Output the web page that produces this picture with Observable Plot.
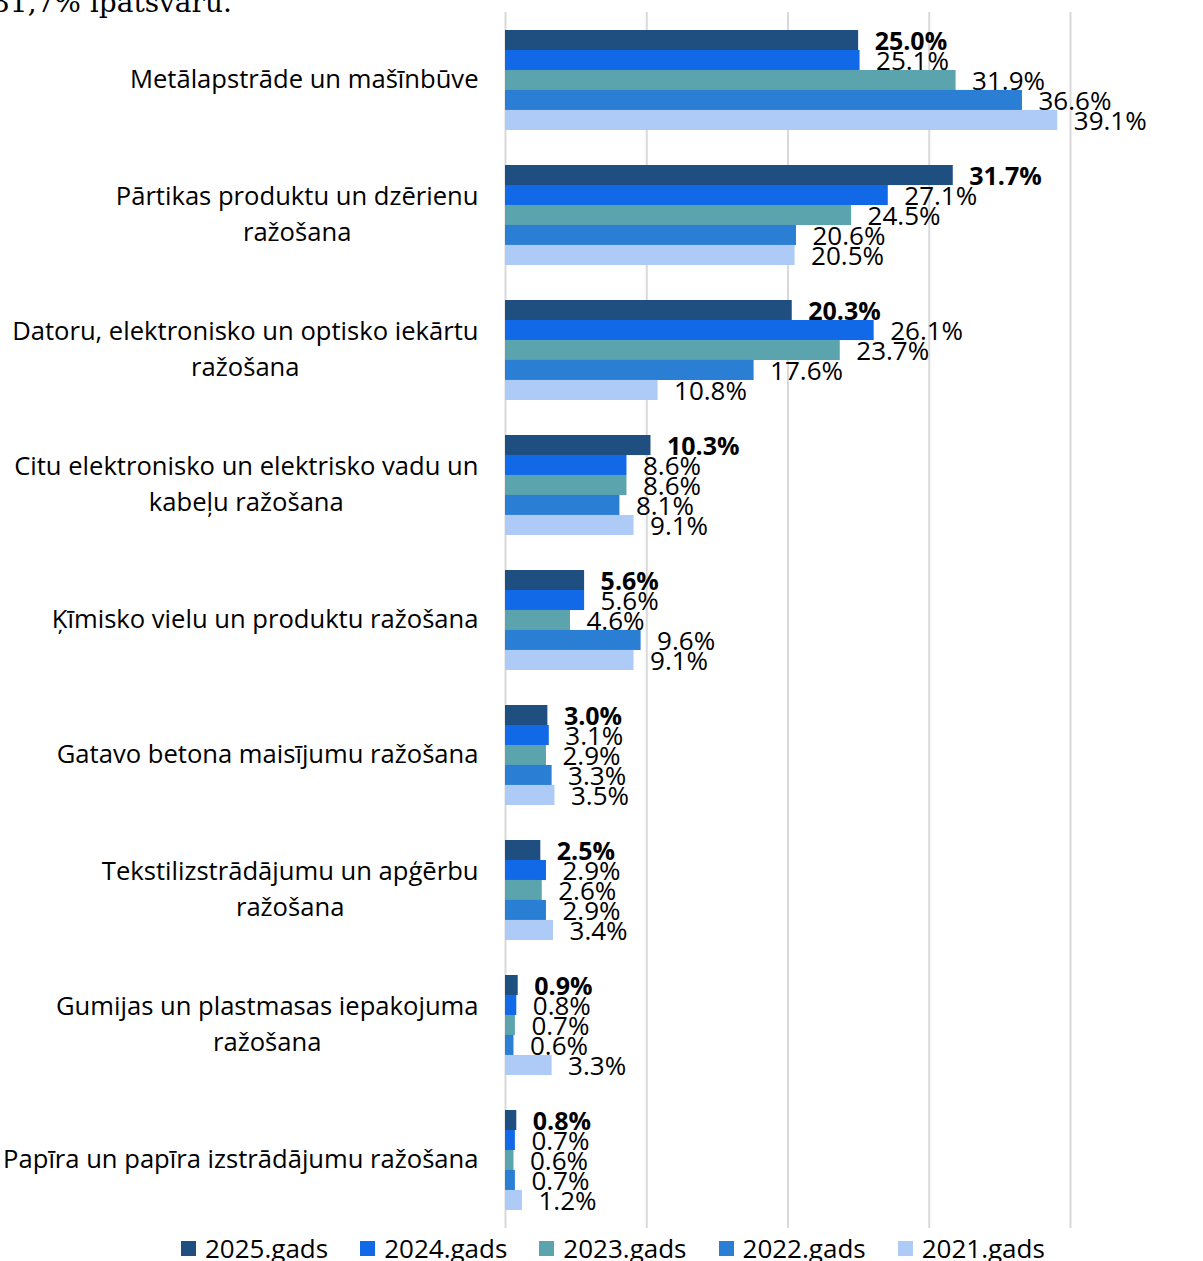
<!DOCTYPE html>
<html>
<head>
<meta charset="utf-8">
<script src="https://cdn.jsdelivr.net/npm/d3@7"></script>
<script src="https://cdn.jsdelivr.net/npm/@observablehq/plot@0.6"></script>
<style>
  html, body { margin: 0; padding: 0; background: #fff; }
  body { width: 1203px; height: 1261px; position: relative; overflow: hidden; font-family: "Open Sans", sans-serif; }
  #intro { position: absolute; left: -8px; top: -11px; font-family: "DejaVu Serif", "Liberation Serif", serif; font-size: 28px; line-height: 28px; color: #000; white-space: nowrap; z-index: 2; }
  #chart { position: absolute; left: 0; top: 0; }
  #legend { position: absolute; left: 181px; top: 1231px; display: flex; gap: 32px; font-size: 26px; line-height: 34px; color: #000; white-space: nowrap; }
  #legend .item { display: flex; align-items: center; gap: 9px; }
  #legend .sw { width: 15px; height: 15px; display: inline-block; }
</style>
</head>
<body>
<div id="chart"></div>
<div id="intro">31,7% īpatsvaru.</div>
<div id="legend"></div>
<script>
// ---- data ----
const categories = [
  "Metālapstrāde un mašīnbūve",
  "Pārtikas produktu un dzērienu ražošana",
  "Datoru, elektronisko un optisko iekārtu ražošana",
  "Citu elektronisko un elektrisko vadu un kabeļu ražošana",
  "Ķīmisko vielu un produktu ražošana",
  "Gatavo betona maisījumu ražošana",
  "Tekstilizstrādājumu un apģērbu ražošana",
  "Gumijas un plastmasas iepakojuma ražošana",
  "Papīra un papīra izstrādājumu ražošana"
];
const categoryLabels = [
  "Metālapstrāde un mašīnbūve",
  "Pārtikas produktu un dzērienu\nražošana",
  "Datoru, elektronisko un optisko iekārtu\nražošana",
  "Citu elektronisko un elektrisko vadu un\nkabeļu ražošana",
  "Ķīmisko vielu un produktu ražošana",
  "Gatavo betona maisījumu ražošana",
  "Tekstilizstrādājumu un apģērbu\nražošana",
  "Gumijas un plastmasas iepakojuma\nražošana",
  "Papīra un papīra izstrādājumu ražošana"
];
const series = ["2025.gads", "2024.gads", "2023.gads", "2022.gads", "2021.gads"];
const values2025 = [25.0, 31.7, 20.3, 10.3, 5.6, 3.0, 2.5, 0.9, 0.8];
const values2024 = [25.1, 27.1, 26.1, 8.6, 5.6, 3.1, 2.9, 0.8, 0.7];
const values2023 = [31.9, 24.5, 23.7, 8.6, 4.6, 2.9, 2.6, 0.7, 0.6];
const values2022 = [36.6, 20.6, 17.6, 8.1, 9.6, 3.3, 2.9, 0.6, 0.7];
const values2021 = [39.1, 20.5, 10.8, 9.1, 9.1, 3.5, 3.4, 3.3, 1.2];
const xTicks = [0, 10, 20, 30, 40];
const colors = ["#1F4E80", "#1269E8", "#5BA3AD", "#2A7FD5", "#ADCBF6"];

const seriesValues = [values2025, values2024, values2023, values2022, values2021];
const data = [];
series.forEach((s, i) => categories.forEach((c, j) => data.push({category: c, series: s, value: seriesValues[i][j]})));

// ---- layout ----
const W = 1203, H = 1232, mt = 12, mb = 4, ml = 505, mr = 133;
const pInner = 0.26, pOuter = 0.133;
const bandwidth = d3.scaleBand().domain(categories).range([mt, H - mb]).paddingInner(pInner).paddingOuter(pOuter).bandwidth();
const n = series.length;
const barH = bandwidth / n;
const font = "'Open Sans', sans-serif";

const chart = Plot.plot({
  width: W, height: H,
  marginLeft: ml, marginRight: mr, marginTop: mt, marginBottom: mb,
  style: {fontFamily: font, background: "#fff", color: "#000", overflow: "visible"},
  x: {domain: [0, 40], axis: null},
  y: {type: "band", domain: categories, paddingInner: pInner, paddingOuter: pOuter, axis: null},
  color: {domain: series, range: colors},
  marks: [
    Plot.gridX(xTicks, {stroke: "#D9D9D9", strokeOpacity: 1, strokeWidth: 2}),
    ...series.map((s, i) => Plot.barX(data.filter(d => d.series === s), {
      x: "value", y: "category", fill: "series",
      insetTop: i * barH, insetBottom: (n - 1 - i) * barH
    })),
    ...series.map((s, i) => Plot.text(data.filter(d => d.series === s), {
      x: "value", y: "category",
      text: d => d.value.toFixed(1) + "%",
      dx: 16, dy: (i - (n - 1) / 2) * barH + 1,
      textAnchor: "start", fill: "#000",
      fontSize: i === 0 ? 25 : 26, fontWeight: i === 0 ? "bold" : "normal"
    })),
    Plot.axisY({
      label: null,
      tickSize: 0, tickPadding: 27, dy: -4,
      tickFormat: c => categoryLabels[categories.indexOf(c)],
      fontSize: 25.6, lineHeight: 1.4, fill: "#000"
    })
  ]
});
document.getElementById("chart").appendChild(chart);

// center the lines of multi-line category labels within their right-aligned block
chart.querySelectorAll('g[aria-label="y-axis tick label"] text').forEach(t => {
  const tsp = t.querySelectorAll("tspan");
  if (tsp.length < 2) return;
  const b0 = t.getBBox();
  const target = b0.x + b0.width / 2;
  t.setAttribute("text-anchor", "middle");
  const setX = v => tsp.forEach(s => s.setAttribute("x", v));
  setX(0);
  const b1 = t.getBBox();
  setX(target - (b1.x + b1.width / 2));
});

// legend
const legend = document.getElementById("legend");
series.forEach((s, i) => {
  const item = document.createElement("div");
  item.className = "item";
  const sw = document.createElement("span");
  sw.className = "sw";
  sw.style.background = colors[i];
  const lab = document.createElement("span");
  lab.textContent = s;
  item.appendChild(sw);
  item.appendChild(lab);
  legend.appendChild(item);
});
</script>
</body>
</html>
